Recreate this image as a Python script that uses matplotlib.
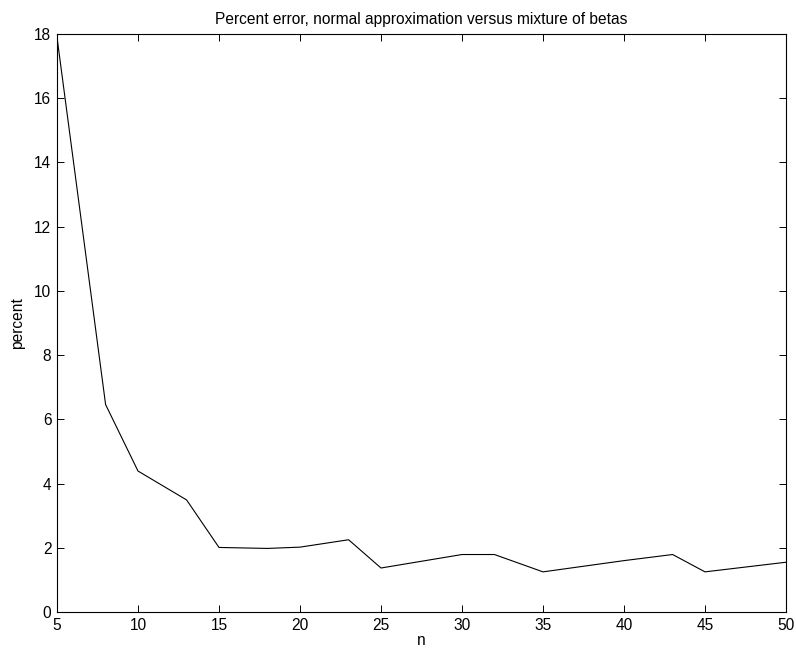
import matplotlib
matplotlib.use("Agg")
import matplotlib.pyplot as plt

# n values where the curve bends, and percent error
n_vals = [5, 8, 10, 13, 15, 18, 20, 23, 25, 30, 32, 35, 40, 43, 45, 50]
pct_err = [17.9, 6.46, 4.39, 3.49, 2.01, 1.98, 2.02, 2.25, 1.37, 1.79, 1.79,
           1.25, 1.6, 1.79, 1.25, 1.55]

x_ticks = [5, 10, 15, 20, 25, 30, 35, 40, 45, 50]
y_ticks = [0, 2, 4, 6, 8, 10, 12, 14, 16, 18]

plt.rcParams['font.family'] = ['Liberation Sans', 'DejaVu Sans']
plt.rcParams['font.size'] = 11.2

fig = plt.figure(figsize=(7.96, 6.53), dpi=100)
ax = fig.add_axes([57.0/796, 1 - 612.0/653, (786.0 - 57.0)/796, (612.0 - 34.0)/653])

ax.plot(n_vals, pct_err, color='k', lw=0.8)

ax.set_xlim(5, 50)
ax.set_ylim(0, 18)
ax.set_xticks(x_ticks)
ax.set_yticks(y_ticks)
ax.tick_params(direction='in', length=5, width=0.7, top=True, right=True,
               pad=4, labelsize=11.2)
for s in ax.spines.values():
    s.set_linewidth(0.8)

ax.set_title('Percent error, normal approximation versus mixture of betas',
             fontsize=11.2, pad=7)
ax.set_xlabel('n', labelpad=0)
ax.set_ylabel('percent', labelpad=7)

fig.savefig('out.png', dpi=100)
